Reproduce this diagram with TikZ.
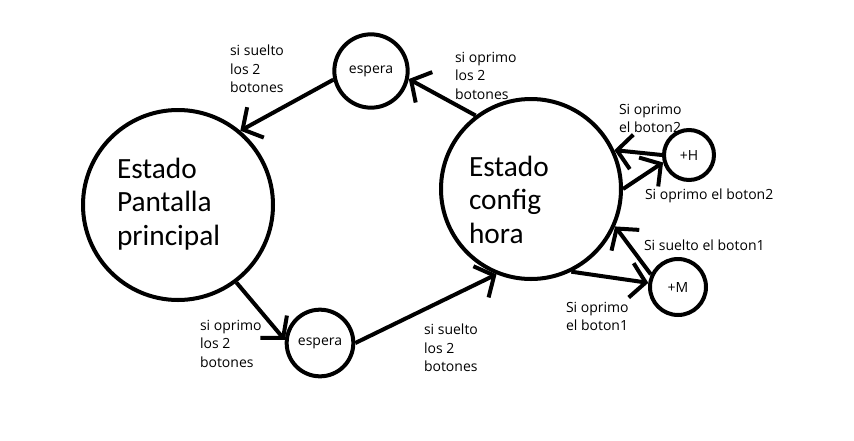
\documentclass[tikz,border=0pt]{standalone}
\usepackage{fontspec}
\setmainfont{Open Sans}
\newfontfamily\grandefont{Carlito}
\usetikzlibrary{arrows.meta, positioning}

\begin{document}
\begin{tikzpicture}[x=0.75pt, y=-0.75pt, line width=3pt,
    estado/.style={circle, draw, inner sep=0pt, font=\fontsize{10.5}{13}\selectfont},
    txt/.style={anchor=north west, align=left, inner sep=0pt, font=\fontsize{10.5}{14}\selectfont},
    grande/.style={anchor=north west, align=left, inner sep=0pt, font=\grandefont\fontsize{22}{25}\selectfont},
    >={Straight Barb[length=11pt, width=26pt]}]
    \useasboundingbox (0,0) rectangle (854,440);

    % estados
    \node[estado, minimum size=142.5pt] (pantalla) at (178,205) {};
    \node[estado, minimum size=135pt] (config) at (531,189) {};
    \node[estado, minimum size=55pt] (esp1) at (371,71) {espera};
    \node[estado, minimum size=50pt] (esp2) at (320,343) {espera};
    \node[estado, minimum size=37.5pt] (masH) at (689,155) {+H};
    \node[estado, minimum size=42pt] (masM) at (678,287) {+M};

    \node[grande] (tPantalla) at (115,156) {Estado\\Pantalla\\principal};
    \node[grande] (tConfig) at (467,154) {Estado\\config\\hora};

    % transiciones
    \path[->] (esp1.193) edge (pantalla.50)
              (config.127) edge (esp1.348)
              (pantalla.307) edge (esp2.175)
              (esp2.0) edge (config.248)
              (masH.180) edge (config.25)
              (config.0) edge (masH.196)
              (config.296) edge (masM.172)
              (masM.155) edge (config.336);

    % etiquetas
    \node[txt] (lSuelto1) at (228,43) {si suelto\\los 2\\botones};
    \node[txt] (lOprimo1) at (453,50) {si oprimo\\los 2\\botones};
    \node[txt] (lOprimo2) at (198,318) {si oprimo\\los 2\\botones};
    \node[txt] (lSuelto2) at (422,322) {si suelto\\los 2\\botones};
    \node[txt] (lBoton2a) at (617,102) {Si oprimo\\el boton2};
    \node[txt] (lBoton2b) at (643,187) {Si oprimo el boton2};
    \node[txt] (lBoton1a) at (642,238) {Si suelto el boton1};
    \node[txt] (lBoton1b) at (564,300) {Si oprimo\\el boton1};
\end{tikzpicture}
\end{document}
